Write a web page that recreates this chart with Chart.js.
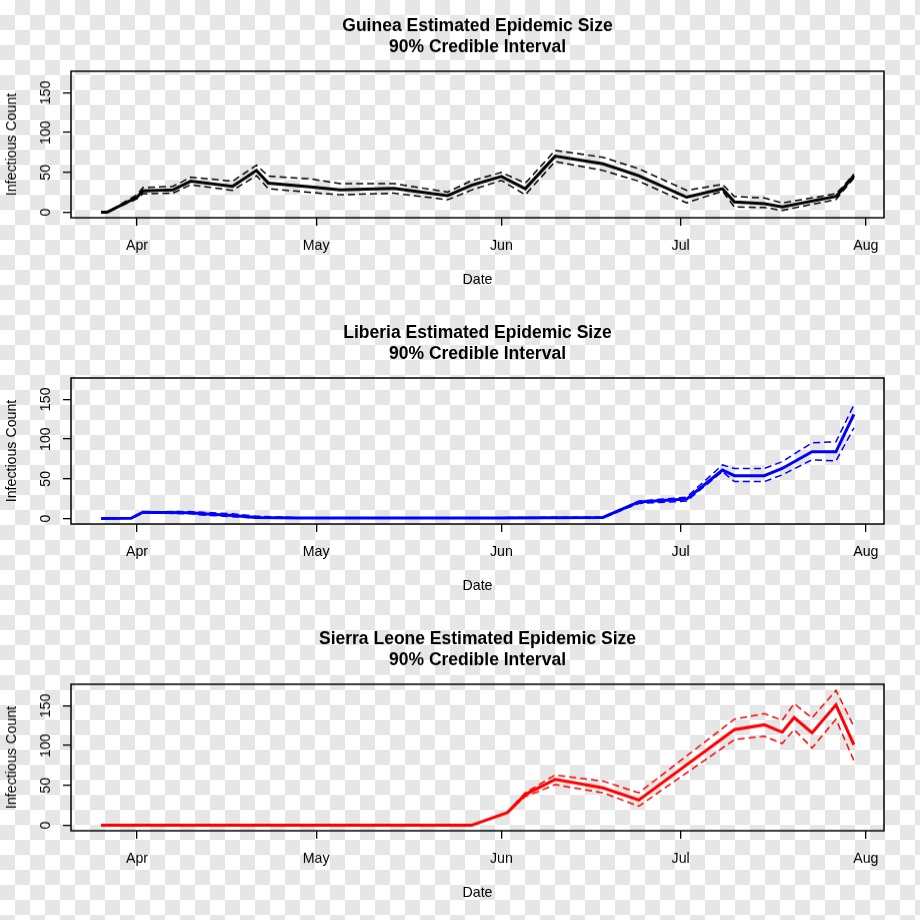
<!DOCTYPE html>
<html>
<head>
<meta charset="utf-8">
<script src="https://cdn.jsdelivr.net/npm/chart.js@4/dist/chart.umd.min.js"></script>
<style>
  html, body { margin: 0; padding: 0; }
  body {
    width: 920px; height: 920px; position: relative; overflow: hidden;
    background: repeating-conic-gradient(#e6e6e6 0 25%, #ffffff 0 50%) 0 0 / 30px 30px;
  }
  .panel { position: absolute; left: 0; width: 920px; height: 306.67px; }
</style>
</head>
<body>
<div class="panel" style="top:0px"><canvas id="c1"></canvas></div>
<div class="panel" style="top:306.67px"><canvas id="c2"></canvas></div>
<div class="panel" style="top:613.33px"><canvas id="c3"></canvas></div>
<script>
// ---- Data (days counted from April 1) ----
const monthTickDays = [0, 30, 61, 91, 122];
const monthLabels = ['Apr', 'May', 'Jun', 'Jul', 'Aug'];
const yTickValues = [0, 50, 100, 150];

// Guinea
const guineaDays   = [-6, -5, 0, 1, 6, 9, 16, 20, 22, 29, 34, 43, 52, 56, 61, 65, 70, 78, 84, 92, 98, 100, 105, 108, 117, 118, 120];
const guineaMedian = [0, 0, 19, 27, 28, 39, 32.5, 52.5, 36.6, 32, 28, 30, 21, 34, 45, 29.6, 70.4, 60.8, 46, 19, 29.6, 13, 10.8, 6.7, 20, 28, 46];
const guineaUpper  = [0, 0, 22, 31, 32.5, 44, 39, 59, 45.4, 42, 36, 36, 25.4, 39.6, 50, 36.6, 77.5, 69, 54.6, 27.5, 35, 20, 18, 11.7, 23.3, 31, 48];
const guineaLower  = [0, 0, 17, 23.3, 24, 34.6, 27.5, 46, 29.6, 25, 22, 24, 15.8, 28, 40, 22, 63.7, 52.5, 39, 12, 26.6, 6.7, 6, 2.5, 16, 25, 43];

// Liberia
const liberiaDays   = [-6, -1, 1, 9, 11, 16, 20, 27, 60, 78, 84, 92, 98, 100, 105, 108, 113, 117, 120];
const liberiaMedian = [0, 0.5, 8, 7.5, 6, 4, 1.5, 0.8, 0.8, 1.5, 21, 24.6, 61, 54, 54, 63, 84, 84, 131];
const liberiaUpper  = [0, 0.5, 8.5, 9, 8, 6, 3, 1.2, 1.2, 2, 22, 27, 67.5, 63, 63, 71.6, 95.4, 96.6, 143];
const liberiaLower  = [0, 0.5, 7.5, 6, 4.5, 2.5, 0.5, 0.4, 0.4, 1, 19, 22, 59, 46.6, 46.6, 55, 74, 72.5, 114];

// Sierra Leone
const sierraDays   = [-6, 56, 62, 65, 70, 78, 84, 100, 105, 108, 110, 113, 117, 120];
const sierraMedian = [0, 0, 16, 38.7, 57.5, 47, 31.7, 120, 126, 116.7, 135, 116, 151, 101];
const sierraUpper  = [0, 0, 16, 41, 63, 55.4, 40.8, 133, 140, 131.6, 152.5, 134.6, 169, 124];
const sierraLower  = [0, 0, 16, 36, 51, 40.8, 24, 107.5, 111.6, 102.5, 120, 97, 133, 81];

const FONT = '"Liberation Sans", Arial, Helvetica, sans-serif';
const PANEL_H = 306.67;

function pts(days, vals) { return days.map((d, i) => ({ x: d, y: vals[i] })); }

function makeChart(id, titleLines, days, med, up, lo, color) {
  const framePlugin = {
    id: 'frame' + id,
    afterDraw(chart) {
      const { ctx, chartArea: a, scales: { y } } = chart;
      ctx.save();
      ctx.strokeStyle = '#000';
      ctx.lineWidth = 1.5;
      ctx.strokeRect(a.left, a.top, a.right - a.left, a.bottom - a.top);
      ctx.fillStyle = '#000';
      ctx.textAlign = 'center';
      ctx.textBaseline = 'middle';
      const cx = (a.left + a.right) / 2;
      ctx.font = 'bold 17.5px ' + FONT;
      ctx.fillText(titleLines[0], cx, 26);
      ctx.fillText(titleLines[1], cx, 47);
      ctx.font = '14.2px ' + FONT;
      yTickValues.forEach(v => {
        const py = y.getPixelForValue(v);
        ctx.save();
        ctx.translate(46, py);
        ctx.rotate(-Math.PI / 2);
        ctx.fillText(String(v), 0, 0);
        ctx.restore();
      });
      ctx.save();
      ctx.translate(12, (a.top + a.bottom) / 2);
      ctx.rotate(-Math.PI / 2);
      ctx.fillText('Infectious Count', 0, 0);
      ctx.restore();
      ctx.fillText('Date', cx, 279);
      ctx.restore();
    }
  };
  const dashed = { borderColor: color, borderWidth: 1.5, borderDash: [7, 4], pointRadius: 0, tension: 0, fill: false };
  return new Chart(document.getElementById(id), {
    type: 'line',
    data: {
      datasets: [
        Object.assign({ data: pts(days, up) }, dashed),
        Object.assign({ data: pts(days, lo) }, dashed),
        { data: pts(days, med), borderColor: color, borderWidth: 3, pointRadius: 0, tension: 0, fill: false }
      ]
    },
    options: {
      responsive: true,
      maintainAspectRatio: false,
      animation: false,
      layout: { padding: { top: 71, right: 36, left: 0, bottom: 0 } },
      plugins: { legend: { display: false }, title: { display: false }, tooltip: { enabled: false } },
      scales: {
        x: {
          type: 'linear',
          min: -11.04,
          max: 125.04,
          afterBuildTicks: s => { s.ticks = monthTickDays.map(v => ({ value: v })); },
          afterFit: s => { s.height = PANEL_H - 217; },
          ticks: {
            callback: v => { const i = monthTickDays.indexOf(v); return i >= 0 ? monthLabels[i] : ''; },
            font: { size: 14.2, family: FONT },
            color: '#000',
            padding: 12,
            maxRotation: 0,
            autoSkip: false
          },
          grid: { display: true, drawOnChartArea: false, drawTicks: true, tickLength: 8, color: '#000', lineWidth: 1.3 },
          border: { display: false }
        },
        y: {
          type: 'linear',
          min: -6.8,
          max: 176.8,
          afterBuildTicks: s => { s.ticks = yTickValues.map(v => ({ value: v })); },
          afterFit: s => { s.width = 71; },
          ticks: { display: false },
          grid: { display: true, drawOnChartArea: false, drawTicks: true, tickLength: 8, color: '#000', lineWidth: 1.3 },
          border: { display: false }
        }
      }
    },
    plugins: [framePlugin]
  });
}

makeChart('c1', ['Guinea Estimated Epidemic Size', '90% Credible Interval'], guineaDays, guineaMedian, guineaUpper, guineaLower, '#000000');
makeChart('c2', ['Liberia Estimated Epidemic Size', '90% Credible Interval'], liberiaDays, liberiaMedian, liberiaUpper, liberiaLower, '#0000ff');
makeChart('c3', ['Sierra Leone Estimated Epidemic Size', '90% Credible Interval'], sierraDays, sierraMedian, sierraUpper, sierraLower, '#ff0000');
</script>
</body>
</html>
